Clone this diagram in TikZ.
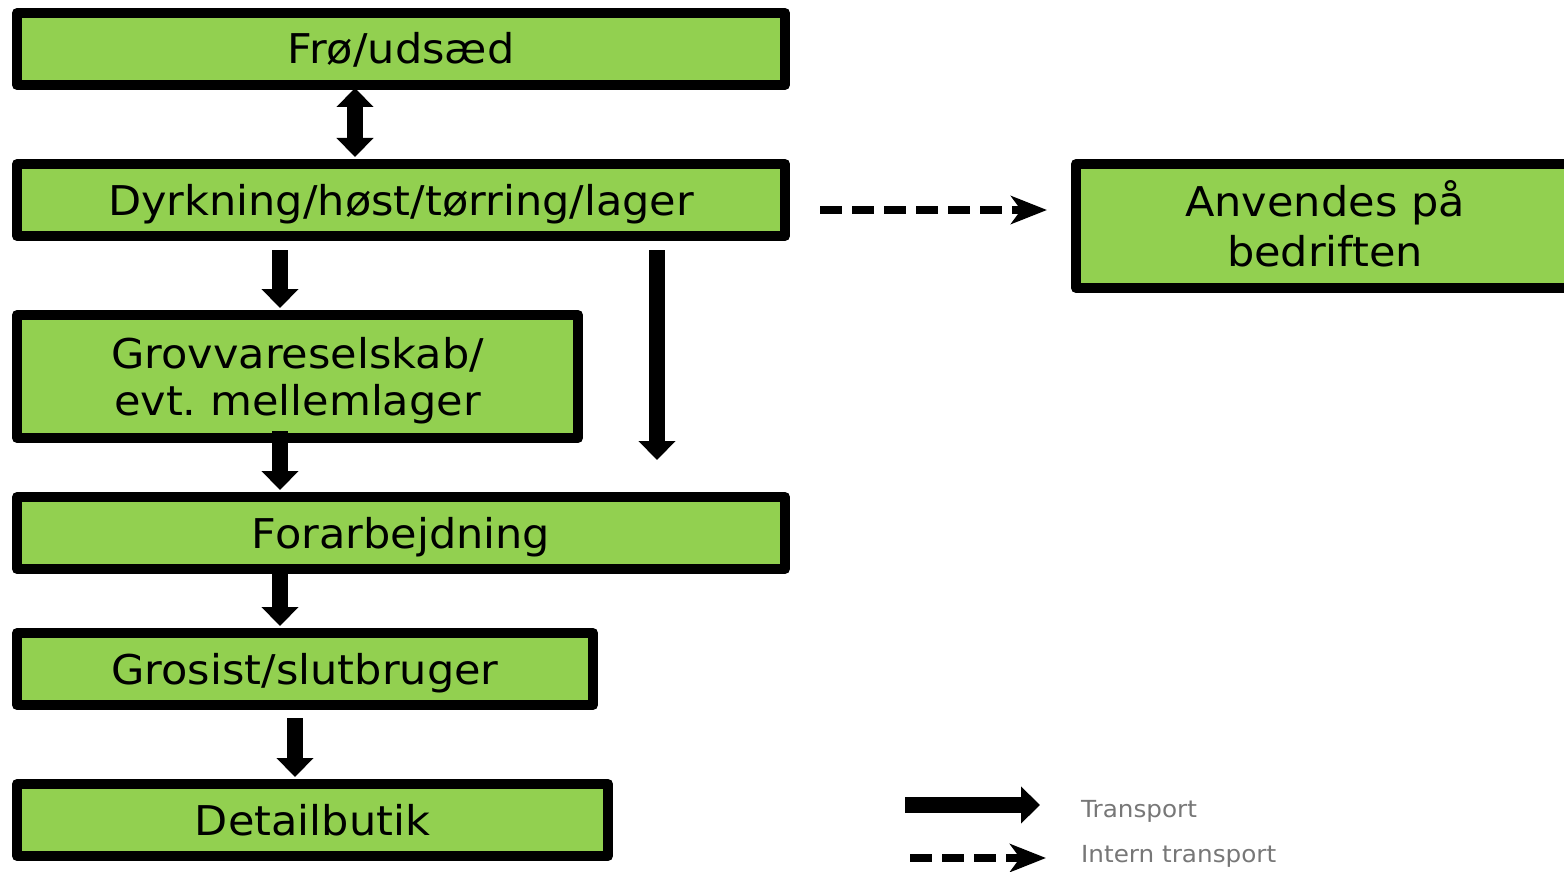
\documentclass[tikz,border=0pt]{standalone}
\usepackage{fontspec}
\setmainfont[FakeStretch=1.05]{DejaVu Sans}
\usetikzlibrary{arrows.meta}
\definecolor{boxgreen}{HTML}{92D050}
\definecolor{legendgray}{HTML}{777777}
\frenchspacing
\begin{document}
\begin{tikzpicture}[x=1pt,y=-1pt,
  box/.style={draw=black, fill=boxgreen, line width=10pt, line join=round,
    minimum height=72pt, inner sep=0pt, align=center,
    text height=30pt, text depth=0pt,
    font=\fontsize{41}{50}\selectfont},
  arr/.style={line width=16pt, -{Triangle[width=36pt,length=19pt]}},
  dblarr/.style={line width=16pt, {Triangle[width=36pt,length=19pt]}-{Triangle[width=36pt,length=19pt]}},
  dasharr/.style={line width=8pt, dash pattern=on 22pt off 10pt,
    -{Stealth[width=28pt,length=36pt,inset=10pt]}},
  legtext/.style={text=legendgray, anchor=west, inner sep=0pt,
    text height=17pt, text depth=0pt,
    font=\fontsize{23.5}{28}\selectfont}]
\clip (0,0) rectangle (1564,872);
\fill[white] (0,0) rectangle (1564,872);

\node[box, minimum width=768pt] (b1) at (401,49) {Frø/udsæd};
\node[box, minimum width=768pt] (b2) at (401,200) {Dyrkning/høst/tørring/lager};
\node[box, minimum width=561pt, minimum height=123pt, text height=77pt, font=\fontsize{41}{47}\selectfont] (b3) at (297.5,376.5) {Grovvareselskab/\\evt. mellemlager};
\node[box, minimum width=768pt] (b4) at (401,533) {Forarbejdning};
\node[box, minimum width=576pt] (b5) at (305,669) {Grosist/slutbruger};
\node[box, minimum width=591pt] (b6) at (312.5,820) {Detailbutik};
\node[box, minimum width=498pt, minimum height=124pt, text height=80pt] (b7) at (1325,226) {Anvendes på\\bedriften};

% connectors
\draw[dblarr] ([xshift=-46pt,yshift=2pt]b1.south) -- ([xshift=-46pt,yshift=2pt]b2.north);
\draw[arr] ([xshift=-121pt,yshift=-9pt]b2.south) -- ([xshift=-17.5pt,yshift=2pt]b3.north);
\coordinate (freeend) at (657,460);
\draw[arr] ([xshift=256pt,yshift=-9pt]b2.south) -- (freeend);
\draw[arr] ([xshift=-17.5pt,yshift=12pt]b3.south) -- ([xshift=-121pt,yshift=2pt]b4.north);
\draw[arr] ([xshift=-121pt,yshift=2pt]b4.south) -- ([xshift=-25pt,yshift=2pt]b5.north);
\draw[arr] ([xshift=-10pt,yshift=-8pt]b5.south) -- ([xshift=-17.5pt,yshift=2pt]b6.north);
\draw[dasharr] ([xshift=30pt,yshift=-10pt]b2.east) -- ([xshift=-24pt,yshift=16pt]b7.west);

% legend
\coordinate (l1s) at (905,805);
\coordinate (l1e) at (1040,805);
\coordinate (l2s) at (910,858);
\coordinate (l2e) at (1046,858);
\draw[arr] (l1s) -- (l1e);
\draw[dasharr] (l2s) -- (l2e);
\node[legtext] (t1) at (1081,809) {Transport};
\node[legtext] (t2) at (1081,854) {Intern transport};
\end{tikzpicture}
\end{document}
